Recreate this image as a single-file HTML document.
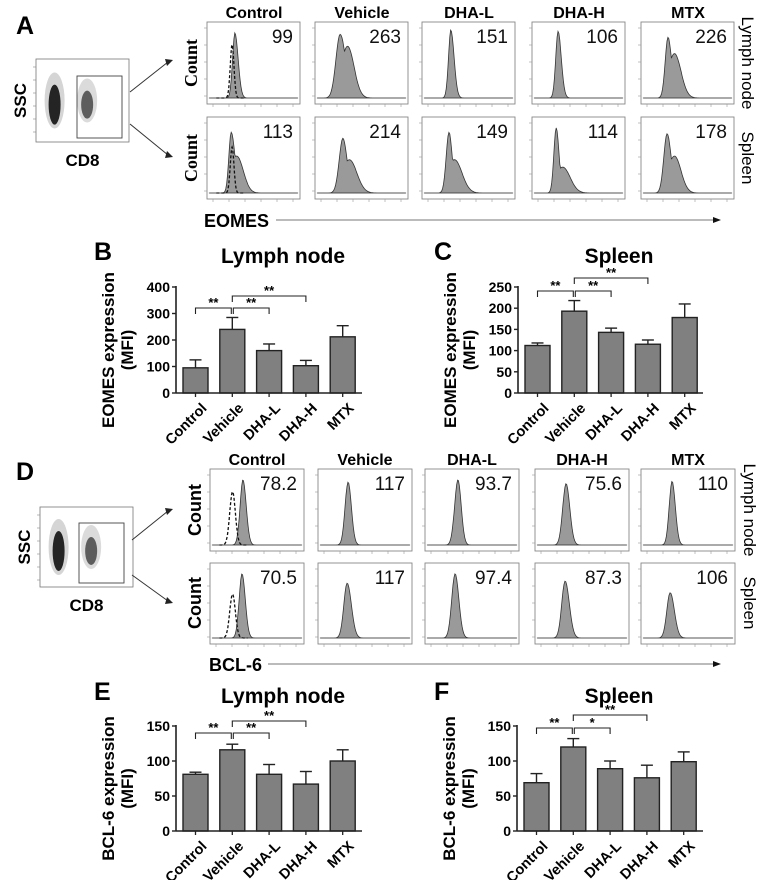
<!DOCTYPE html>
<html><head><meta charset="utf-8">
<style>
html,body{margin:0;padding:0;background:#fff;}
svg{display:block;font-family:"Liberation Sans",Arial,sans-serif;}
</style></head>
<body>
<svg id="fig" width="769" height="880" viewBox="0 0 769 880" xmlns="http://www.w3.org/2000/svg"></svg>
<script>
// ---------- bar chart data ----------
const categories = ["Control","Vehicle","DHA-L","DHA-H","MTX"];
const eomesLymphMean = [95,240,160,103,212];
const eomesLymphErr  = [30,45,25,20,42];
const eomesSpleenMean = [112,193,143,115,178];
const eomesSpleenErr  = [6,25,10,10,32];
const bclLymphMean = [81,116,81,67,100];
const bclLymphErr  = [3,8,14,18,16];
const bclSpleenMean = [69,120,89,76,99];
const bclSpleenErr  = [13,12,11,18,14];
const ticksEomesLymph = [0,100,200,300,400];
const ticksEomesSpleen = [0,50,100,150,200,250];
const ticksBcl = [0,50,100,150];
const sigEomesLymph = ["**","**","**"];
const sigEomesSpleen = ["**","**","**"];
const sigBclLymph = ["**","**","**"];
const sigBclSpleen = ["**","*","**"];
// histogram MFI labels
const mfiEomesLymph = ["99","263","151","106","226"];
const mfiEomesSpleen = ["113","214","149","114","178"];
const mfiBclLymph = ["78.2","117","93.7","75.6","110"];
const mfiBclSpleen = ["70.5","117","97.4","87.3","106"];

const NS="http://www.w3.org/2000/svg";
const svg=document.getElementById('fig');
function el(tag,attrs,parent,text){const e=document.createElementNS(NS,tag);for(const k in attrs)e.setAttribute(k,attrs[k]);if(text!==undefined)e.textContent=text;(parent||svg).appendChild(e);return e;}

function label(txt,x,y,size,name,extra){
  const t=el('text',Object.assign({x:x,y:y,'font-size':size,'font-weight':'bold','text-anchor':'middle'},extra||{}),svg,txt);
  
  
  return t;
}

// panel letters
[["A",16,34],["B",94,260],["C",434,260],["D",16,480],["E",94,700],["F",434,700]].forEach(p=>{
  label(p[0],p[1],p[2],25,'panel-letter-'+p[0].toLowerCase(),{'text-anchor':'start'});
});

// ---------- scatter plots ----------
function scatter(x,y,w,h,gx,gy,gw,gh,name,fy){
  const g=el('g',{});
  
  
  el('rect',{x:x,y:y,width:w,height:h,fill:'#fff',stroke:'#777','stroke-width':0.8},g);
  el('ellipse',{cx:x+w*0.2,cy:y+h*0.5,rx:10,ry:28,fill:'#888',opacity:0.35},g);
  el('ellipse',{cx:x+w*0.2,cy:y+h*0.55,rx:6,ry:20,fill:'#111',opacity:0.9},g);
  el('ellipse',{cx:x+w*0.55,cy:y+h*0.5,rx:10,ry:22,fill:'#888',opacity:0.3},g);
  el('ellipse',{cx:x+w*0.55,cy:y+h*0.55,rx:6,ry:14,fill:'#333',opacity:0.75},g);
  el('rect',{x:gx,y:gy,width:gw,height:gh,fill:'none',stroke:'#444','stroke-width':0.9},g);
  for(let i=0;i<6;i++){el('line',{x1:x-3,x2:x,y1:y+8+i*13,y2:y+8+i*13,stroke:'#888','stroke-width':0.6},g);}
  label('SSC',x-16,y+h/2,17,'ssc-label',{transform:`rotate(-90 ${x-16} ${y+h/2})`,dy:6});
  label('CD8',x+w/2,y+h+24,17,'cd8-label');
  const ax=gx+gw+8;
  el('line',{x1:ax,y1:fy[0],x2:168,y2:fy[1],stroke:'#333','stroke-width':1},g);
  el('polygon',{points:`173,${fy[1]-2} 165,${fy[1]-3} 167,${fy[1]+4}`,fill:'#222'},g);
  el('line',{x1:ax,y1:fy[2],x2:168,y2:fy[3],stroke:'#333','stroke-width':1},g);
  el('polygon',{points:`173,${fy[3]+2} 165,${fy[3]+3} 167,${fy[3]-4}`,fill:'#222'},g);
}
scatter(36,59,93,83,77,76,45,62,'eomes-gating-scatter',[92,62,124,155]);
scatter(40,507,93,80,79,523,45,60,'bcl6-gating-scatter',[540,511,575,601]);

// ---------- histograms ----------
// shape params: [peak, height, sigmaL, sigmaR, shoulderPos, shoulderH, shoulderSigma]
const shapesEomesLymph=[[0.30,0.88,0.025,0.035,0,0,0.05],[0.27,0.86,0.045,0.06,0.35,0.7,0.07],[0.31,0.92,0.025,0.035,0,0,0.05],[0.28,0.90,0.025,0.035,0,0,0.05],[0.29,0.82,0.03,0.04,0.36,0.6,0.07]];
const shapesEomesSpleen=[[0.26,0.82,0.025,0.04,0.32,0.5,0.07],[0.30,0.74,0.04,0.045,0.37,0.45,0.08],[0.29,0.82,0.03,0.035,0.35,0.45,0.08],[0.26,0.88,0.025,0.03,0.33,0.35,0.08],[0.28,0.80,0.035,0.045,0.36,0.5,0.07]];
const shapesBclLymph=[[0.35,0.88,0.03,0.035,0,0,0.05],[0.32,0.85,0.032,0.035,0,0,0.05],[0.35,0.88,0.035,0.035,0,0,0.05],[0.33,0.83,0.035,0.04,0,0,0.05],[0.33,0.86,0.03,0.035,0,0,0.05]];
const shapesBclSpleen=[[0.34,0.88,0.03,0.035,0,0,0.05],[0.31,0.75,0.035,0.045,0,0,0.05],[0.32,0.88,0.035,0.04,0,0,0.05],[0.32,0.78,0.035,0.045,0,0,0.05],[0.31,0.62,0.035,0.045,0,0,0.05]];

function curve(s,x){
  const [p,h,sl,sr,sp,sh,ss]=s;
  const sig=x<p?sl:sr;
  let v=h*Math.exp(-0.5*Math.pow((x-p)/sig,2));
  if(sh>0&&x>p) v=Math.max(v,sh*Math.exp(-0.5*Math.pow((x-sp)/ss,2)));
  return v;
}
function hist(x,y,w,h,shape,num,dashed,name){
  const g=el('g',{});
  
  
  el('rect',{x:x,y:y,width:w,height:h,fill:'#fff',stroke:'#888','stroke-width':0.9},g);
  const base=y+h-6;
  let d=`M${x+2},${base}`;
  for(let i=0;i<=100;i++){const f=0.02+i*0.0096;d+=` L${(x+w*f).toFixed(1)},${(base-curve(shape,f)*(h-8)).toFixed(1)}`;}
  d+=` L${x+w-2},${base} Z`;
  el('path',{d:d,fill:'#9a9a9a',stroke:'#333','stroke-width':0.8},g);
  if(dashed){
    let dd='';
    for(let i=0;i<=60;i++){const f=0.1+i*0.005;const v=dashed[1]*Math.exp(-0.5*Math.pow((f-dashed[0])/dashed[2],2));dd+=(i?' L':'M')+(x+w*f).toFixed(1)+','+(base-v*(h-8)).toFixed(1);}
    el('path',{d:dd,fill:'none',stroke:'#111','stroke-width':1.3,'stroke-dasharray':'3,2'},g);
  }
  el('line',{x1:x+3,x2:x+w-3,y1:base,y2:base,stroke:'#444','stroke-width':0.6},g);
  for(let i=0;i<6;i++){el('line',{x1:x+6+i*16,x2:x+6+i*16,y1:y+h,y2:y+h+3,stroke:'#999','stroke-width':0.6},g);}
  for(let i=0;i<5;i++){el('line',{x1:x-3,x2:x,y1:y+6+i*17,y2:y+6+i*17,stroke:'#999','stroke-width':0.6},g);}
  const t=el('text',{x:x+w-7,y:y+21,'font-size':19,'text-anchor':'end',fill:'#111'},g,num);
  
  
}
const leftsA=[207,315,422,532,641], leftsD=[210,318,425,535,641];
categories.forEach((c,i)=>{
  label(c,leftsA[i]+47,18,16,'column-header-'+c.toLowerCase());
  hist(leftsA[i],22,93,82,shapesEomesLymph[i],mfiEomesLymph[i],i==0?[0.27,0.72,0.02]:null,'eomes-lymph-hist-'+c.toLowerCase());
  hist(leftsA[i],117,93,82,shapesEomesSpleen[i],mfiEomesSpleen[i],i==0?[0.27,0.62,0.02]:null,'eomes-spleen-hist-'+c.toLowerCase());
  label(c,leftsD[i]+47,465,16,'column-header-d-'+c.toLowerCase());
  hist(leftsD[i],469,94,82,shapesBclLymph[i],mfiBclLymph[i],i==0?[0.24,0.72,0.03]:null,'bcl6-lymph-hist-'+c.toLowerCase());
  hist(leftsD[i],563,94,81,shapesBclSpleen[i],mfiBclSpleen[i],i==0?[0.24,0.6,0.03]:null,'bcl6-spleen-hist-'+c.toLowerCase());
});
label('Count',191,63,18,'count-label',{transform:'rotate(-90 191 63)','font-family':'"Liberation Serif",serif',dy:6});
label('Count',191,158,18,'count-label',{transform:'rotate(-90 191 158)','font-family':'"Liberation Serif",serif',dy:6});
label('Count',195,510,18,'count-label',{transform:'rotate(-90 195 510)',dy:6});
label('Count',195,603,18,'count-label',{transform:'rotate(-90 195 603)',dy:6});
label('Lymph node',748,63,17,'row-label-lymph-node',{transform:'rotate(90 748 63)',dy:6,'font-weight':'normal'});
label('Spleen',748,158,17,'row-label-spleen',{transform:'rotate(90 748 158)',dy:6,'font-weight':'normal'});
label('Lymph node',750,510,17,'row-label-lymph-node',{transform:'rotate(90 750 510)',dy:6,'font-weight':'normal'});
label('Spleen',750,603,17,'row-label-spleen',{transform:'rotate(90 750 603)',dy:6,'font-weight':'normal'});
label('EOMES',204,227,18,'eomes-axis-label',{'text-anchor':'start'});
el('line',{x1:276,y1:220,x2:714,y2:220,stroke:'#777','stroke-width':1});
el('polygon',{points:'721,220 713,217 713,223',fill:'#111'});
label('BCL-6',209,671,18,'bcl6-axis-label',{'text-anchor':'start'});
el('line',{x1:268,y1:664,x2:714,y2:664,stroke:'#777','stroke-width':1});
el('polygon',{points:'721,664 713,661 713,667',fill:'#111'});

// ---------- bar charts ----------
function barChart(o){
  const g=el('g',{});
  
  
  const ymax=o.ticks[o.ticks.length-1];
  const yS=v=>o.y0-(v/ymax)*(o.y0-o.yTop);
  const xC=i=>o.x0+7+12.5+i*36.8;
  label(o.title,o.titleX,o.titleY,21,'chart-title');
  const cy=(o.y0+o.yTop)/2+10;
  label(o.ytitle,o.x0-62,cy,17,'y-axis-title',{transform:`rotate(-90 ${o.x0-62} ${cy})`});
  label('(MFI)',o.x0-43,cy,17,'y-axis-title-unit',{transform:`rotate(-90 ${o.x0-43} ${cy})`});
  o.means.forEach((m,i)=>{
    const cx=xC(i), top=yS(m), et=yS(m+o.errs[i]);
    el('line',{x1:cx,x2:cx,y1:top,y2:et,stroke:'#222','stroke-width':1.4},g);
    el('line',{x1:cx-6,x2:cx+6,y1:et,y2:et,stroke:'#222','stroke-width':1.4},g);
    const r=el('rect',{x:cx-12.5,y:top,width:25,height:o.y0-top,fill:'#808080',stroke:'#222','stroke-width':1.4},g);
    
    
    el('line',{x1:cx,x2:cx,y1:o.y0,y2:o.y0+4,stroke:'#222','stroke-width':1.3},g);
    const lx=cx+5, ly=o.y0+9;
    const t=el('text',{x:lx,y:ly,'font-size':14.5,'font-weight':'bold','text-anchor':'end',transform:`rotate(-45 ${lx} ${ly})`,dy:10},g,categories[i]);
    
    
  });
  el('line',{x1:o.x0,x2:o.x0,y1:o.yTop-1,y2:o.y0,stroke:'#222','stroke-width':1.6},g);
  el('line',{x1:o.x0,x2:o.x1,y1:o.y0,y2:o.y0,stroke:'#222','stroke-width':1.6},g);
  o.ticks.forEach(v=>{
    const y=yS(v);
    el('line',{x1:o.x0-4,x2:o.x0,y1:y,y2:y,stroke:'#222','stroke-width':1.4},g);
    const t=el('text',{x:o.x0-6,y:y+5,'font-size':14,'font-weight':'bold','text-anchor':'end'},g,String(v));
    
    
  });
  const pairs=[[0,1,o.sigLow],[1,2,o.sigLow],[1,3,o.sigHigh]];
  pairs.forEach((p,k)=>{
    const a=xC(p[0])+(k==1?1:0),b=xC(p[1])-(k==0?1:0),y=p[2];
    el('path',{d:`M${a},${y+6} L${a},${y} L${b},${y} L${b},${y+6}`,fill:'none',stroke:'#222','stroke-width':1.1},g);
    const t=el('text',{x:(a+b)/2,y:y-1,'font-size':13,'font-weight':'bold','text-anchor':'middle'},g,o.sig[k]);
    
    
  });
}
barChart({name:'eomes-lymph-bar-chart',title:'Lymph node',titleX:283,titleY:263,ytitle:'EOMES expression',x0:176,x1:362,y0:393,yTop:287,ticks:ticksEomesLymph,means:eomesLymphMean,errs:eomesLymphErr,sig:sigEomesLymph,sigLow:308,sigHigh:296});
barChart({name:'eomes-spleen-bar-chart',title:'Spleen',titleX:619,titleY:263,ytitle:'EOMES expression',x0:518,x1:703,y0:393,yTop:287,ticks:ticksEomesSpleen,means:eomesSpleenMean,errs:eomesSpleenErr,sig:sigEomesSpleen,sigLow:291,sigHigh:278});
barChart({name:'bcl6-lymph-bar-chart',title:'Lymph node',titleX:283,titleY:703,ytitle:'BCL-6 expression',x0:176,x1:362,y0:831,yTop:726,ticks:ticksBcl,means:bclLymphMean,errs:bclLymphErr,sig:sigBclLymph,sigLow:733,sigHigh:721});
barChart({name:'bcl6-spleen-bar-chart',title:'Spleen',titleX:619,titleY:703,ytitle:'BCL-6 expression',x0:517,x1:703,y0:831,yTop:726,ticks:ticksBcl,means:bclSpleenMean,errs:bclSpleenErr,sig:sigBclSpleen,sigLow:728,sigHigh:715});
</script>
</body></html>
